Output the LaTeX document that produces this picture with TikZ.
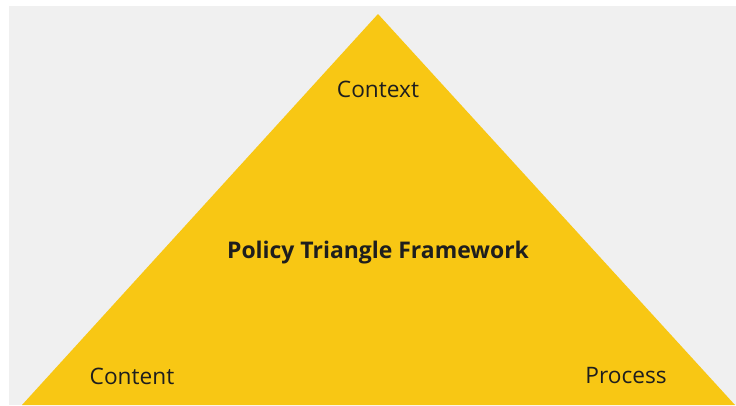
\documentclass[tikz,border=0pt]{standalone}
\usepackage{fontspec}
\setmainfont{Open Sans}
\usetikzlibrary{positioning}

\definecolor{bggray}{HTML}{F0F0F0}
\definecolor{polyellow}{HTML}{F8C714}
\definecolor{txtdark}{HTML}{1E1E1E}

\begin{document}
\begin{tikzpicture}[
    x=0.75pt, y=-0.75pt,
    corner/.style={text=txtdark,font=\fontsize{17}{20}\selectfont,inner sep=0pt},
    title/.style={text=txtdark,font=\fontsize{17.2}{20}\selectfont\bfseries,inner sep=0pt}
    ]
        % page and grey panel
        \useasboundingbox (0,0) rectangle (736,405);
        \fill [white] (0,0) rectangle (736,405);
        \fill [bggray] (9,6) rectangle (736,405);

        % the triangle
        \coordinate (top) at (378,14);
        \coordinate (bl) at (22,405);
        \coordinate (br) at (735,405);
        \fill [polyellow] (top) -- (br) -- (bl) -- cycle;

        \node [title](frame) at (378,253) {Policy Triangle Framework};
        \node [corner](context) at (378,89) {Context};
        \node [corner](content) at (132,376) {Content};
        \node [corner](process) at (626,376) {Process};

\end{tikzpicture}
\end{document}
